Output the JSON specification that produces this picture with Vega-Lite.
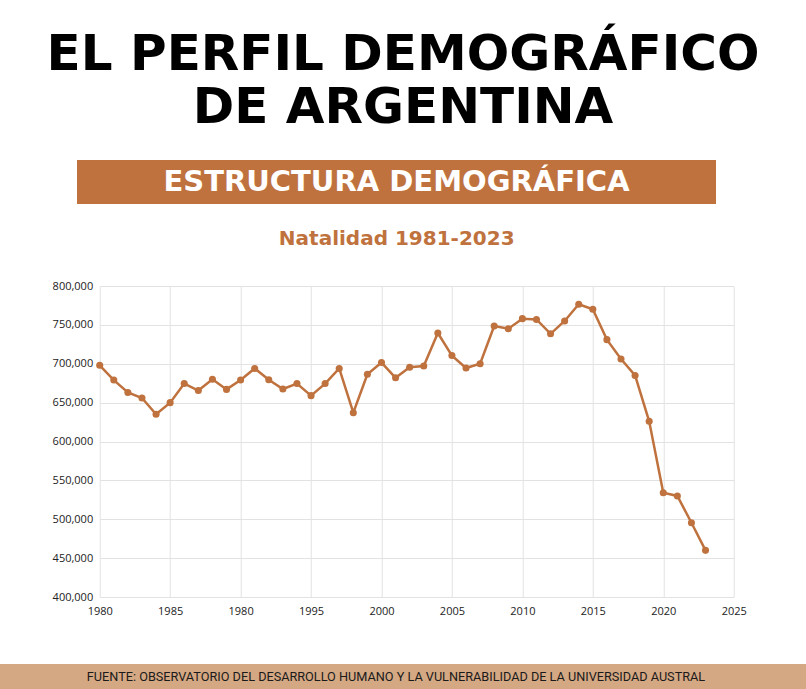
{
  "$schema": "https://vega.github.io/schema/vega-lite/v6.json",
  "background": "white",
  "padding": {"left": 0, "right": 0, "top": 30, "bottom": 0},
  "title": {
    "text": ["EL PERFIL DEMOGRÁFICO", "DE ARGENTINA"],
    "font": "DejaVu Sans",
    "fontWeight": "bold",
    "fontSize": 50,
    "lineHeight": 53,
    "color": "#000000",
    "anchor": "middle",
    "offset": 27
  },
  "spacing": 25,
  "center": true,
  "config": {"view": {"stroke": null}},
  "datasets": {
    "natalidad": [
      {"year": 1980, "births": 698000},
      {"year": 1981, "births": 679000},
      {"year": 1982, "births": 663000},
      {"year": 1983, "births": 656000},
      {"year": 1984, "births": 635000},
      {"year": 1985, "births": 650000},
      {"year": 1986, "births": 674500},
      {"year": 1987, "births": 665500},
      {"year": 1988, "births": 680000},
      {"year": 1989, "births": 667000},
      {"year": 1990, "births": 679000},
      {"year": 1991, "births": 694000},
      {"year": 1992, "births": 679500},
      {"year": 1993, "births": 667500},
      {"year": 1994, "births": 674500},
      {"year": 1995, "births": 659000},
      {"year": 1996, "births": 674500},
      {"year": 1997, "births": 694000},
      {"year": 1998, "births": 637000},
      {"year": 1999, "births": 686500},
      {"year": 2000, "births": 701500},
      {"year": 2001, "births": 682000},
      {"year": 2002, "births": 695500},
      {"year": 2003, "births": 697000},
      {"year": 2004, "births": 739500},
      {"year": 2005, "births": 710500},
      {"year": 2006, "births": 694500},
      {"year": 2007, "births": 700000},
      {"year": 2008, "births": 748500},
      {"year": 2009, "births": 745000},
      {"year": 2010, "births": 758000},
      {"year": 2011, "births": 757000},
      {"year": 2012, "births": 738500},
      {"year": 2013, "births": 755000},
      {"year": 2014, "births": 776500},
      {"year": 2015, "births": 770000},
      {"year": 2016, "births": 731000},
      {"year": 2017, "births": 706000},
      {"year": 2018, "births": 685000},
      {"year": 2019, "births": 626000},
      {"year": 2020, "births": 534000},
      {"year": 2021, "births": 530000},
      {"year": 2022, "births": 495500},
      {"year": 2023, "births": 460000}
    ]
  },
  "vconcat": [
    {
      "hconcat": [
        {
          "width": 639,
          "height": 44,
          "view": {"fill": "#BF723E", "stroke": null},
          "data": {"values": [{"t": "ESTRUCTURA DEMOGRÁFICA"}]},
          "mark": {"type": "text", "color": "#FFFFFF", "font": "DejaVu Sans", "fontWeight": "bold", "fontSize": 29, "baseline": "middle", "align": "center"},
          "encoding": {"text": {"field": "t"}}
        },
        {
          "width": 13,
          "height": 44,
          "data": {"values": [{"t": ""}]},
          "mark": {"type": "text"},
          "encoding": {"text": {"field": "t"}}
        }
      ],
      "spacing": 0,
      "bounds": "flush"
    },
    {
      "hconcat": [
        {
          "width": 40,
          "height": 10,
          "data": {"values": [{"t": ""}]},
          "mark": {"type": "text"},
          "encoding": {"text": {"field": "t"}}
        },
        {
          "width": 634,
          "height": 311,
          "title": {
            "text": "Natalidad 1981-2023",
            "font": "DejaVu Sans",
            "fontWeight": "bold",
            "fontSize": 20,
            "color": "#BF723E",
            "anchor": "middle",
            "dx": -20,
            "offset": 31
          },
          "data": {"name": "natalidad"},
          "encoding": {
            "x": {
              "field": "year",
              "type": "quantitative",
              "scale": {"domain": [1980, 2025], "nice": false, "zero": false},
              "axis": {
                "values": [1980, 1985, 1990, 1995, 2000, 2005, 2010, 2015, 2020, 2025],
                "format": "d",
                "labelExpr": "datum.value == 1990 ? '1980' : datum.label",
                "labelFlush": false,
                "grid": true,
                "gridColor": "#E2E2E2",
                "gridWidth": 1,
                "domain": false,
                "ticks": false,
                "labelPadding": 8,
                "labelFont": "Open Sans",
                "labelFontSize": 11,
                "labelColor": "#222222",
                "title": "Año",
                "titleOpacity": 0,
                "titleFontSize": 10,
                "titlePadding": 13
              }
            },
            "y": {
              "field": "births",
              "type": "quantitative",
              "scale": {"domain": [400000, 800000], "nice": false, "zero": false},
              "axis": {
                "values": [400000, 450000, 500000, 550000, 600000, 650000, 700000, 750000, 800000],
                "format": ",d",
                "labelFlush": false,
                "grid": true,
                "gridColor": "#E2E2E2",
                "gridWidth": 1,
                "domain": false,
                "ticks": false,
                "labelPadding": 7,
                "labelFont": "Open Sans",
                "labelFontSize": 11,
                "labelColor": "#222222",
                "title": null
              }
            }
          },
          "layer": [
            {"mark": {"type": "line", "color": "#BF723E", "strokeWidth": 2.5}},
            {"mark": {"type": "point", "filled": true, "size": 50, "color": "#BF723E", "opacity": 1}}
          ]
        }
      ],
      "spacing": 0,
      "bounds": "flush"
    },
    {
      "width": 806,
      "height": 26,
      "view": {"fill": "#D4A883", "stroke": null},
      "data": {"values": [{"t": "FUENTE: OBSERVATORIO DEL DESARROLLO HUMANO Y LA VULNERABILIDAD DE LA UNIVERSIDAD AUSTRAL"}]},
      "mark": {"type": "text", "color": "#1A1A1A", "font": "Roboto", "fontSize": 12.7, "baseline": "middle", "align": "center", "dx": -7},
      "encoding": {"text": {"field": "t"}}
    }
  ]
}
